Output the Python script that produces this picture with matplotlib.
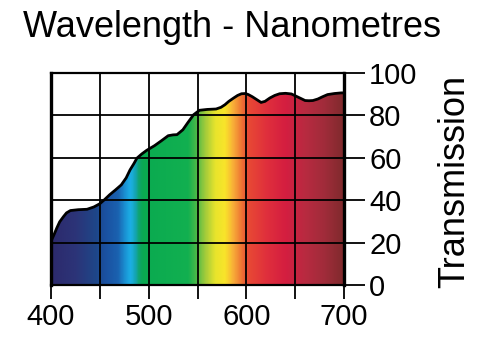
import numpy as np
import matplotlib
matplotlib.use("Agg")
import matplotlib.pyplot as plt
from matplotlib.colors import LinearSegmentedColormap
from matplotlib.patches import Polygon

plt.rcParams['font.family'] = ['Liberation Sans', 'DejaVu Sans']

# Transmission curve (wavelength nm, transmission %)
wavelength = [400, 403, 406, 409, 413, 416, 420, 428, 437, 444, 450, 455, 460, 466, 472,
              477, 481, 485, 488, 493, 498, 502, 506, 513, 520, 525, 529, 535, 540, 546,
              552, 560, 569, 574, 578, 582, 587, 591, 595, 599, 602, 606, 610, 615, 619,
              624, 629, 634, 640, 646, 651, 656, 660, 664, 668, 673, 678, 683, 690, 697, 700]
transmission = [20.5, 23.5, 26.8, 29.8, 32.3, 34.0, 35.1, 35.5, 35.7, 36.8, 38.3, 40.3, 42.5, 44.8, 47.2,
                50.5, 54.3, 57.3, 59.8, 61.8, 63.5, 64.6, 65.7, 68.0, 70.4, 70.8, 70.9, 73.2, 76.5, 80.3,
                82.4, 82.8, 83.0, 83.8, 85.0, 86.6, 88.2, 89.4, 90.2, 90.3, 89.8, 88.8, 87.6, 86.1, 86.6,
                88.2, 89.4, 90.2, 90.4, 90.1, 89.0, 87.9, 87.0, 86.9, 87.0, 87.7, 88.8, 89.8, 90.3, 90.6, 90.6]

x_ticks = [400, 500, 600, 700]
x_minor = [450, 550, 650]
y_ticks = [0, 20, 40, 60, 80, 100]

# spectrum colour stops (nm, colour)
spec_nm = [400, 425, 445, 455, 468, 476, 481, 486, 490, 494, 540, 548, 558, 568, 578,
           586, 593, 601, 620, 640, 660, 680, 700]
spec_col = ['#2c2a6c', '#2c3478', '#1e4688', '#1a50a0', '#1a62b0', '#1a96d6', '#1cb0e6',
            '#14a4b0', '#0ea468', '#0aaa50', '#12b050', '#48b848', '#a6cc3a', '#e8e42c', '#f9e42a',
            '#f8ae38', '#f08034', '#e84a34', '#e0303c', '#d41e40', '#b82a40', '#a02c3a', '#7e2a2c']

fig = plt.figure(figsize=(4.8, 3.63), dpi=100)
ax = fig.add_axes([0.106, 0.215, 0.611, 0.584])

pos = [(w - 400) / 300 for w in spec_nm]
cmap = LinearSegmentedColormap.from_list('spec', list(zip(pos, spec_col)))
grad = np.linspace(0, 1, 600).reshape(1, -1)
im = ax.imshow(grad, cmap=cmap, extent=[400, 700, 0, 100], aspect='auto', zorder=1,
               interpolation='bilinear')
verts = [(400, 0)] + list(zip(wavelength, transmission)) + [(700, 0)]
poly = Polygon(verts, closed=True, facecolor='none', edgecolor='none', transform=ax.transData)
ax.add_patch(poly)
im.set_clip_path(poly)

ax.plot(wavelength, transmission, color='black', lw=2.0, zorder=3, solid_capstyle='round')

ax.set_xlim(400, 700)
ax.set_ylim(0, 100)

for v in x_ticks + x_minor:
    ax.axvline(v, color='black', lw=1.3, zorder=2)
for v in y_ticks:
    ax.axhline(v, color='black', lw=1.3, zorder=2)

ax.set_xticks(x_ticks)
ax.set_xticks(x_minor, minor=True)
ax.tick_params(axis='x', which='both', direction='out', length=10, width=1.3,
               labelsize=21, pad=3, colors='black')
ax.yaxis.tick_right()
ax.set_yticks(y_ticks)
ax.tick_params(axis='y', direction='out', length=15, width=1.3, labelsize=21, pad=3)

for s in ['left', 'right']:
    ax.spines[s].set_linewidth(2.4)
for s in ['top', 'bottom']:
    ax.spines[s].set_linewidth(1.6)

fig.text(0.910, 0.499, 'Transmission', fontsize=26, rotation=90, ha='left', va='center')
fig.text(0.048, 0.972, 'Wavelength - Nanometres', fontsize=26, ha='left', va='top')

fig.savefig('out.png', dpi=100, facecolor='white')
